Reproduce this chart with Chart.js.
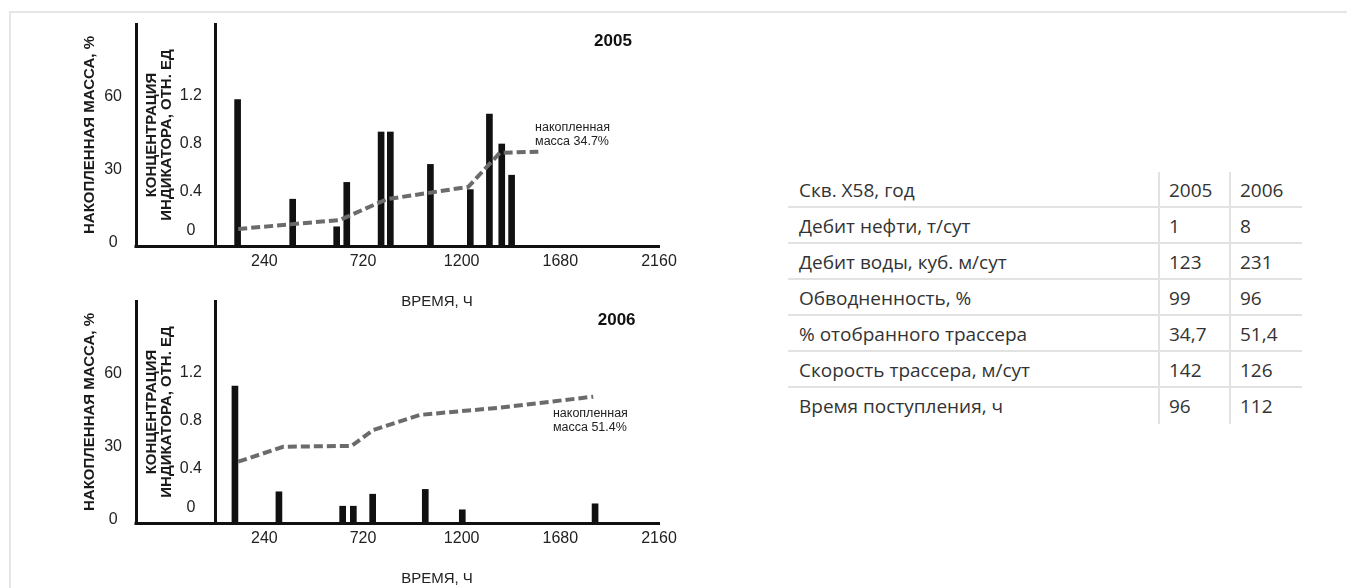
<!DOCTYPE html>
<html lang="ru">
<head>
    <meta charset="UTF-8">
    <title>Скв. X58 - трассерные исследования</title>
    <script src="https://cdn.jsdelivr.net/npm/chart.js"></script>
    <style>
        html, body {
            margin: 0;
            padding: 0;
            width: 1347px;
            height: 588px;
            overflow: hidden;
            background: #ffffff;
        }
        #frame {
            position: absolute;
            left: 9px;
            top: 11px;
            right: 0;
            bottom: 0;
            border-top: 2px solid #e6e6e6;
            border-left: 2px solid #e6e6e6;
        }
        .chart-box {
            position: absolute;
            left: 0;
            width: 700px;
            height: 315px;
        }
        #info {
            position: absolute;
            left: 788px;
            top: 172px;
            display: grid;
            grid-template-columns: 370px 71px 73px;
            font-family: 'Open Sans', 'Noto Sans', sans-serif;
            font-size: 19px;
            color: #333;
        }
        #info div {
            height: 36px;
            line-height: 36px;
            padding-left: 11px;
            box-sizing: border-box;
            border-bottom: 2px solid #e2e2e2;
            white-space: nowrap;
        }
        #info div.num {
            padding-left: 9px;
            border-left: 2px solid #e2e2e2;
        }
        #info div.last {
            border-bottom: none;
        }
    </style>
</head>
<body>
    <div id="frame"></div>
    <div class="chart-box" style="top:0px"><canvas id="chart2005"></canvas></div>
    <div class="chart-box" style="top:277px"><canvas id="chart2006"></canvas></div>
    <div id="info"></div>

    <script>
        // оси
        const timeTicks = [240, 720, 1200, 1680, 2160];
        const concTicks = [0, 0.4, 0.8, 1.2];
        const massTicks = [0, 30, 60];

        // 2005: концентрация индикатора (столбики) и накопленная масса (пунктир)
        const barTime2005 = [110, 378, 592, 641, 808, 853, 1048, 1242, 1335, 1395, 1443];
        const barConc2005 = [1.17, 0.34, 0.11, 0.48, 0.90, 0.90, 0.63, 0.42, 1.05, 0.80, 0.54];
        const massTime2005 = [113, 608, 835, 1046, 1232, 1386, 1573];
        const massValue2005 = [5.8, 9.5, 18.0, 20.7, 23.1, 37.1, 37.5];

        // 2006
        const barTime2006 = [97, 311, 621, 673, 767, 1023, 1203, 1849];
        const barConc2006 = [1.09, 0.21, 0.09, 0.09, 0.19, 0.23, 0.06, 0.11];
        const massTime2006 = [113, 332, 665, 770, 997, 1386, 1840];
        const massValue2006 = [24.0, 30.1, 30.5, 37.0, 43.2, 46.2, 50.7];

        // таблица
        const tableHead = ['Скв. X58, год', '2005', '2006'];
        const tableRows = ['Дебит нефти, т/сут', 'Дебит воды, куб. м/сут', 'Обводненность, %',
                           '% отобранного трассера', 'Скорость трассера, м/сут', 'Время поступления, ч'];
        const table2005 = ['1', '123', '99', '34,7', '142', '96'];
        const table2006 = ['8', '231', '96', '51,4', '126', '112'];

        const FONT = "'Liberation Sans', Arial, Helvetica, sans-serif";
        const CONC_MIN = -0.05;
        Chart.defaults.font.family = FONT;

        // подписи на графике + продолжение оси времени под шкалой концентрации
        const notesPlugin = {
            id: 'notes',
            afterDraw(chart, args, opts) {
                const { ctx, chartArea, scales } = chart;
                const x = scales.x, m = scales.m;
                ctx.save();
                const y0 = Math.round(chartArea.bottom) + 0.5;
                ctx.strokeStyle = '#111';
                ctx.lineWidth = 3;
                ctx.beginPath();
                ctx.moveTo(m.right - 1.5, y0);
                ctx.lineTo(chartArea.left, y0);
                ctx.stroke();

                ctx.fillStyle = '#111';
                ctx.textBaseline = 'middle';
                ctx.textAlign = 'center';
                ctx.font = 'bold 17px ' + FONT;
                ctx.fillText(opts.year, x.getPixelForValue(opts.yearAt[0]), m.getPixelForValue(opts.yearAt[1]));

                ctx.fillStyle = '#222';
                ctx.textAlign = 'left';
                ctx.font = '12.5px ' + FONT;
                const nx = x.getPixelForValue(opts.noteAt[0]);
                const ny = m.getPixelForValue(opts.noteAt[1]);
                opts.note.forEach((line, i) => ctx.fillText(line, nx, ny + i * 14));
                ctx.restore();
            }
        };

        function drawWell(canvasId, year, barTimes, barConcs, massTimes, massValues, note, yearAt, noteAt) {
            const ctx = document.getElementById(canvasId).getContext('2d');
            return new Chart(ctx, {
                type: 'bar',
                data: {
                    datasets: [{
                        type: 'line',
                        label: 'Накопленная масса, %',
                        data: massTimes.map((t, i) => ({ x: t, y: massValues[i] })),
                        yAxisID: 'm',
                        borderColor: '#6b6b6b',
                        borderWidth: 4,
                        borderDash: [9, 4],
                        pointRadius: 0,
                        tension: 0,
                        fill: false,
                        order: 0
                    }, {
                        type: 'bar',
                        label: 'Концентрация индикатора',
                        data: barTimes.map((t, i) => ({ x: t, y: barConcs[i] })),
                        yAxisID: 'c',
                        backgroundColor: '#111',
                        barThickness: 6,
                        base: CONC_MIN,
                        order: 1
                    }]
                },
                options: {
                    responsive: true,
                    maintainAspectRatio: false,
                    animation: false,
                    layout: { padding: { left: 70, top: 24, right: 41, bottom: 0 } },
                    plugins: {
                        legend: { display: false },
                        tooltip: { enabled: false },
                        notes: { year: year, note: note, yearAt: yearAt, noteAt: noteAt }
                    },
                    scales: {
                        x: {
                            type: 'linear',
                            min: 0,
                            max: 2160,
                            offset: false,
                            grid: { display: false, drawTicks: false, offset: false },
                            border: { color: '#111', width: 3 },
                            afterBuildTicks: s => { s.ticks = timeTicks.map(v => ({ value: v })); },
                            afterFit: s => { s.height = 69; },
                            ticks: {
                                padding: 6, color: '#222', maxRotation: 0, autoSkip: false,
                                font: { size: 16 },
                                callback: v => String(v)
                            },
                            title: {
                                display: true, text: 'ВРЕМЯ, Ч', color: '#222',
                                font: { size: 15 }, padding: { top: 0, bottom: 4 }
                            }
                        },
                        c: {
                            type: 'linear',
                            position: 'left',
                            weight: 0,
                            min: CONC_MIN,
                            max: 1.8,
                            grid: { display: false, drawTicks: false },
                            border: { color: '#111', width: 3 },
                            afterBuildTicks: s => { s.ticks = concTicks.map(v => ({ value: v })); },
                            afterFit: s => { s.width = 79; },
                            ticks: {
                                padding: 13, crossAlign: 'center', color: '#222',
                                font: { size: 16 },
                                callback: v => v === 0 ? ['0', ''] : v.toFixed(1)
                            },
                            title: {
                                display: true, text: ['КОНЦЕНТРАЦИЯ', 'ИНДИКАТОРА, ОТН. ЕД'], color: '#1a1a1a',
                                font: { size: 15, weight: 'bold', lineHeight: 1 }, padding: { top: 8.5, bottom: 0 }
                            }
                        },
                        m: {
                            type: 'linear',
                            position: 'left',
                            weight: 1,
                            min: -1.2,
                            max: 90,
                            grid: { display: false, drawTicks: false },
                            border: { color: '#111', width: 3 },
                            afterBuildTicks: s => { s.ticks = massTicks.map(v => ({ value: v })); },
                            afterFit: s => { s.width = 66; },
                            ticks: {
                                padding: 14, crossAlign: 'center', color: '#222',
                                font: { size: 16 },
                                callback: v => String(v)
                            },
                            title: {
                                display: true, text: 'НАКОПЛЕННАЯ МАССА, %', color: '#1a1a1a',
                                font: { size: 15, weight: 'bold', lineHeight: 1 }, padding: { top: 12.5, bottom: 0 }
                            }
                        }
                    }
                },
                plugins: [notesPlugin]
            });
        }

        drawWell('chart2005', '2005', barTime2005, barConc2005, massTime2005, massValue2005,
                 ['накопленная', 'масса 34.7%'], [1936, 83], [1557, 47.3]);
        drawWell('chart2006', '2006', barTime2006, barConc2006, massTime2006, massValue2006,
                 ['накопленная', 'масса 51.4%'], [1954, 81.9], [1644, 43.6]);

        // таблица справа
        const info = document.getElementById('info');
        function addCell(text, cls) {
            const d = document.createElement('div');
            d.textContent = text;
            if (cls) d.className = cls;
            info.appendChild(d);
        }
        addCell(tableHead[0]);
        addCell(tableHead[1], 'num');
        addCell(tableHead[2], 'num');
        tableRows.forEach((row, i) => {
            const last = i === tableRows.length - 1 ? ' last' : '';
            addCell(row, last.trim());
            addCell(table2005[i], 'num' + last);
            addCell(table2006[i], 'num' + last);
        });
    </script>
</body>
</html>
